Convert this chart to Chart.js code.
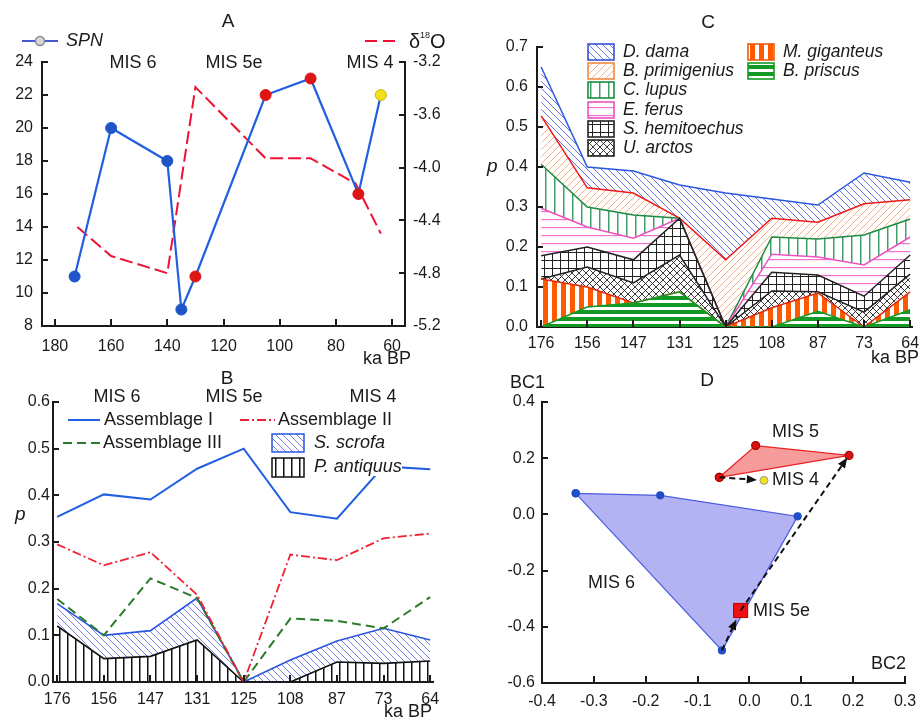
<!DOCTYPE html>
<html>
<head>
<meta charset="utf-8">
<script src="https://cdn.jsdelivr.net/npm/chart.js@4.4.1/dist/chart.umd.min.js"></script>
<style>
  html, body { margin: 0; padding: 0; background: #fff; }
  #wrap { position: relative; width: 920px; height: 722px; overflow: hidden; }
  #wrap canvas { position: absolute; }
</style>
</head>
<body>
<div id="wrap">
  <canvas id="cA" width="460" height="372" style="left:0;top:0"></canvas>
  <canvas id="cC" width="460" height="372" style="left:460px;top:0"></canvas>
  <canvas id="cB" width="460" height="360" style="left:0;top:362px"></canvas>
  <canvas id="cD" width="460" height="360" style="left:460px;top:362px"></canvas>
</div>
<script>
// ---------- panel A: SPN and d18O against age ----------
const SPN_AGE   = [173, 160, 140, 135, 130, 105, 89, 72, 64];
const SPN_VAL   = [11, 20, 18, 9, 11, 22, 23, 16, 22];
const SPN_STAGE = ['6', '6', '6', '6', '5', '5', '5', '5', '4'];
const D18O_AGE  = [172, 160, 140, 130, 105, 89, 73, 64];
const D18O_VAL  = [-4.45, -4.67, -4.8, -3.39, -3.93, -3.93, -4.12, -4.5];
const A_X_TICKS  = [180, 160, 140, 120, 100, 80, 60];
const A_Y2_TICKS = [-5.2, -4.8, -4.4, -4.0, -3.6, -3.2];

// ---------- panels B and C: equally spaced sites ----------
const AGES = ['176', '156', '147', '131', '125', '108', '87', '73', '64'];

// panel B
const ASM_I      = [0.354, 0.402, 0.391, 0.457, 0.500, 0.364, 0.350, 0.462, 0.456];
const ASM_II     = [0.295, 0.250, 0.278, 0.187, 0.000, 0.273, 0.261, 0.308, 0.318];
const ASM_III    = [0.178, 0.100, 0.222, 0.180, 0.000, 0.136, 0.131, 0.115, 0.182];
const SCROFA_TOP = [0.168, 0.100, 0.110, 0.180, 0.000, 0.047, 0.088, 0.115, 0.090];
const ANTIQUUS   = [0.120, 0.050, 0.055, 0.090, 0.000, 0.000, 0.043, 0.040, 0.045];

// panel C (cumulative upper edge of each band, bottom to top)
const PRISCUS     = [0.000, 0.050, 0.060, 0.088, 0.000, 0.000, 0.039, 0.000, 0.043];
const GIGANTEUS   = [0.120, 0.100, 0.060, 0.088, 0.000, 0.048, 0.085, 0.000, 0.088];
const ARCTOS      = [0.120, 0.150, 0.110, 0.180, 0.000, 0.090, 0.088, 0.037, 0.132];
const HEMITOECHUS = [0.178, 0.200, 0.168, 0.272, 0.000, 0.137, 0.130, 0.077, 0.180];
const FERUS       = [0.297, 0.250, 0.222, 0.272, 0.000, 0.182, 0.175, 0.155, 0.225];
const LUPUS       = [0.407, 0.300, 0.280, 0.272, 0.000, 0.225, 0.220, 0.230, 0.270];
const PRIMIGENIUS = [0.528, 0.348, 0.335, 0.272, 0.168, 0.272, 0.262, 0.308, 0.318];
const DAMA        = [0.650, 0.400, 0.390, 0.355, 0.335, 0.320, 0.305, 0.385, 0.362];

// ---------- panel D: BC1 / BC2 ordination ----------
const MIS6_X = [-0.335, -0.172, 0.093, -0.053];
const MIS6_Y = [0.075, 0.068, -0.007, -0.484];
const MIS5_X = [-0.058, 0.012, 0.192];
const MIS5_Y = [0.132, 0.245, 0.210];
const MIS4_XY  = [0.028, 0.121];
const MIS5E_XY = [-0.017, -0.342];
const D_X_TICKS = [-0.4, -0.3, -0.2, -0.1, 0, 0.1, 0.2, 0.3];
const D_Y_TICKS = [-0.6, -0.4, -0.2, 0, 0.2, 0.4];

const FONT = '"Liberation Sans", Arial, Helvetica, sans-serif';
const INK = '#1a1a1a';
const STAGE_COL = { '6': '#1f55c8', '5': '#dd1515', '4': '#f2e01c' };

// hatch fills
function hatch(kind, color, size, lw) {
  const c = document.createElement('canvas');
  c.width = c.height = size;
  const g = c.getContext('2d');
  g.strokeStyle = color; g.fillStyle = color; g.lineWidth = lw;
  const diag = (back) => {
    g.beginPath();
    for (let k = -size; k <= size; k += size) {
      if (back) { g.moveTo(k, 0); g.lineTo(k + size, size); }
      else { g.moveTo(k + size, 0); g.lineTo(k, size); }
    }
    g.stroke();
  };
  if (kind === 'back') diag(true);
  if (kind === 'fwd') diag(false);
  if (kind === 'cross') { diag(true); diag(false); }
  if (kind === 'vert' || kind === 'grid') g.fillRect(Math.round((size - lw) / 2), 0, lw, size);
  if (kind === 'horiz' || kind === 'grid') g.fillRect(0, Math.round((size - lw) / 2), size, lw);
  return g.createPattern(c, 'repeat');
}

const PAT = {
  scrofa:      hatch('back', 'rgba(70,85,215,0.75)', 7, 1),
  antiquus:    hatch('vert', '#111', 8, 1.5),
  dama:        hatch('back', 'rgba(60,80,220,0.8)', 7, 1),
  primigenius: hatch('fwd', 'rgba(245,160,105,0.8)', 7, 1),
  lupus:       hatch('vert', 'rgba(40,150,90,0.9)', 9, 1.5),
  ferus:       hatch('horiz', 'rgba(240,100,200,0.9)', 8, 1.2),
  hemitoechus: hatch('grid', '#222', 8, 1),
  arctos:      hatch('cross', '#222', 7, 0.9),
  giganteus:   hatch('vert', '#ff5a00', 9, 5),
  priscus:     hatch('horiz', '#139a25', 7, 4),
};

// inward tick marks, drawn from each scale's own tick positions
const inTicks = {
  id: 'inTicks',
  afterDraw(chart) {
    const ctx = chart.ctx;
    ctx.save();
    ctx.strokeStyle = INK;
    ctx.lineWidth = 2;
    Object.values(chart.scales).forEach(s => {
      s.ticks.forEach(t => {
        const p = Math.round(s.getPixelForValue(t.value));
        ctx.beginPath();
        if (s.position === 'left') { ctx.moveTo(s.right, p); ctx.lineTo(s.right + 6, p); }
        else if (s.position === 'right') { ctx.moveTo(s.left, p); ctx.lineTo(s.left - 6, p); }
        else { ctx.moveTo(p, s.top); ctx.lineTo(p, s.top - 7); }
        ctx.stroke();
      });
    });
    ctx.restore();
  }
};

// free text placed in page coordinates
function textLayer(ox, oy, items, extra) {
  return {
    id: 'textLayer',
    afterDraw(chart) {
      const ctx = chart.ctx;
      if (extra) extra(ctx, ox, oy, chart);
      items.forEach(it => {
        ctx.save();
        ctx.font = (it.italic ? 'italic ' : '') + (it.size || 18) + 'px ' + FONT;
        ctx.fillStyle = INK;
        ctx.textAlign = it.align || 'left';
        ctx.textBaseline = 'middle';
        ctx.fillText(it.t, it.x - ox, it.y - oy);
        ctx.restore();
      });
    }
  };
}

function tickFont() { return { family: FONT, size: 16 }; }
const NO_GRID = { display: false, drawTicks: false, tickLength: 0 };

function xAxis(min, max, height, pad, extra) {
  return Object.assign({
    type: 'linear', position: 'bottom', min, max,
    grid: NO_GRID,
    border: { display: true, color: INK, width: 2 },
    ticks: { color: INK, font: tickFont(), padding: pad, maxRotation: 0, autoSkip: false },
    afterFit(s) { s.height = height; s.paddingLeft = 0; s.paddingRight = 0; },
  }, extra || {});
}

function yAxis(pos, min, max, width, pad, extra) {
  return Object.assign({
    type: 'linear', position: pos, min, max,
    grid: NO_GRID,
    border: { display: true, color: INK, width: 2 },
    ticks: { color: INK, font: tickFont(), padding: pad },
    afterFit(s) { s.width = width; s.paddingTop = 0; s.paddingBottom = 0; },
  }, extra || {});
}

const fixedTicks = (list) => (s) => { s.ticks = list.map(v => ({ value: v })); };
const siteTicks = fixedTicks(AGES.map((_, i) => i));
const fmt1 = (v) => (Math.abs(v) < 1e-9 ? '0.0' : Number(v).toFixed(1));

const baseOpts = (pad) => ({
  responsive: false,
  animation: false,
  layout: { padding: pad },
  plugins: { legend: { display: false }, tooltip: { enabled: false } },
  elements: { line: { tension: 0 } },
});

function arrowLine(ctx, x1, y1, x2, y2, head) {
  const a = Math.atan2(y2 - y1, x2 - x1);
  ctx.save();
  ctx.strokeStyle = '#111'; ctx.fillStyle = '#111'; ctx.lineWidth = 2;
  ctx.setLineDash([6, 4]);
  ctx.beginPath(); ctx.moveTo(x1, y1);
  ctx.lineTo(x2 - Math.cos(a) * head * 0.6, y2 - Math.sin(a) * head * 0.6);
  ctx.stroke();
  ctx.setLineDash([]);
  ctx.beginPath();
  ctx.moveTo(x2, y2);
  ctx.lineTo(x2 - Math.cos(a - 0.4) * head, y2 - Math.sin(a - 0.4) * head);
  ctx.lineTo(x2 - Math.cos(a + 0.4) * head, y2 - Math.sin(a + 0.4) * head);
  ctx.closePath(); ctx.fill();
  ctx.restore();
}

// ================= A =================
new Chart(document.getElementById('cA'), {
  type: 'line',
  data: {
    datasets: [
      {
        label: 'SPN',
        data: SPN_AGE.map((x, i) => ({ x, y: SPN_VAL[i] })),
        borderColor: '#1f5fe0', borderWidth: 2.2,
        pointRadius: 5.5,
        pointBackgroundColor: SPN_STAGE.map(s => STAGE_COL[s]),
        pointBorderColor: SPN_STAGE.map(s => (s === '4' ? '#c9b800' : STAGE_COL[s])),
        pointBorderWidth: 1,
        yAxisID: 'y',
      },
      {
        label: 'δ18O',
        data: D18O_AGE.map((x, i) => ({ x, y: D18O_VAL[i] })),
        borderColor: '#ee1133', borderWidth: 2, borderDash: [13, 5],
        pointRadius: 0,
        yAxisID: 'y1',
      },
    ],
  },
  options: Object.assign(baseOpts({ left: 0, top: 62, right: 5, bottom: 0 }), {
    scales: {
      x: xAxis(55.4, 184.6, 46, 11, { reverse: true, afterBuildTicks: fixedTicks(A_X_TICKS) }),
      y: yAxis('left', 8, 24, 42, 9, { ticks: { color: INK, font: tickFont(), padding: 9, stepSize: 2 } }),
      y1: yAxis('right', -5.2, -3.2, 50, 8, {
        afterBuildTicks: fixedTicks(A_Y2_TICKS),
        ticks: { color: INK, font: tickFont(), padding: 8, callback: fmt1 },
      }),
    },
  }),
  plugins: [inTicks, textLayer(0, 0, [
    { t: 'A', x: 228, y: 22, size: 19, align: 'center' },
    { t: 'SPN', x: 66, y: 41, italic: true },
    { t: 'MIS 6', x: 133, y: 63, align: 'center' },
    { t: 'MIS 5e', x: 234, y: 63, align: 'center' },
    { t: 'MIS 4', x: 370, y: 63, align: 'center' },
    { t: 'ka BP', x: 411, y: 359, align: 'right' },
  ], (ctx) => {
    ctx.save();
    ctx.strokeStyle = '#4a55d0'; ctx.lineWidth = 2;
    ctx.beginPath(); ctx.moveTo(22, 41); ctx.lineTo(58, 41); ctx.stroke();
    ctx.fillStyle = '#d8d8d8'; ctx.strokeStyle = '#8a8a9a'; ctx.lineWidth = 1.5;
    ctx.beginPath(); ctx.arc(40, 41, 4.5, 0, Math.PI * 2); ctx.fill(); ctx.stroke();
    ctx.strokeStyle = '#ee1133'; ctx.lineWidth = 2; ctx.setLineDash([12, 6]);
    ctx.beginPath(); ctx.moveTo(365, 41); ctx.lineTo(398, 41); ctx.stroke();
    ctx.setLineDash([]);
    ctx.fillStyle = INK; ctx.textBaseline = 'middle';
    ctx.font = '20px ' + FONT; ctx.fillText('δ', 409, 42);
    ctx.font = '9px ' + FONT; ctx.fillText('18', 420, 36);
    ctx.font = '20px ' + FONT; ctx.fillText('O', 430, 42);
    ctx.restore();
  })],
});

// ================= B =================
const siteData = (arr) => arr.map((y, x) => ({ x, y }));
new Chart(document.getElementById('cB'), {
  type: 'line',
  data: {
    datasets: [
      { label: 'Assemblage I', data: siteData(ASM_I), borderColor: '#1f5fe0', borderWidth: 2, pointRadius: 0 },
      { label: 'Assemblage II', data: siteData(ASM_II), borderColor: '#ee2233', borderWidth: 1.8, borderDash: [9, 3, 2, 3], pointRadius: 0 },
      { label: 'Assemblage III', data: siteData(ASM_III), borderColor: '#2a7a2a', borderWidth: 2, borderDash: [9, 5], pointRadius: 0 },
      { label: 'P. antiquus', data: siteData(ANTIQUUS), borderColor: '#111', borderWidth: 1.6, pointRadius: 0, fill: 'origin', backgroundColor: PAT.antiquus },
      { label: 'S. scrofa', data: siteData(SCROFA_TOP), borderColor: '#2a55e0', borderWidth: 1.6, pointRadius: 0, fill: '-1', backgroundColor: PAT.scrofa },
    ],
  },
  options: Object.assign(baseOpts({ left: 0, top: 40, right: 27, bottom: 0 }), {
    scales: {
      x: xAxis(-0.09, 8.06, 40, 8, { afterBuildTicks: siteTicks, ticks: { color: INK, font: tickFont(), padding: 8, maxRotation: 0, callback: (v) => AGES[v] } }),
      y: yAxis('left', 0, 0.6, 53, 3, { ticks: { color: INK, font: tickFont(), padding: 3, stepSize: 0.1, callback: fmt1 } }),
    },
  }),
  plugins: [inTicks, textLayer(0, 362, [
    { t: 'B', x: 227, y: 379, align: 'center', size: 19 },
    { t: 'MIS 6', x: 117, y: 397, align: 'center' },
    { t: 'MIS 5e', x: 234, y: 397, align: 'center' },
    { t: 'MIS 4', x: 373, y: 397, align: 'center' },
    { t: 'Assemblage I', x: 104, y: 420 },
    { t: 'Assemblage II', x: 278, y: 420 },
    { t: 'Assemblage III', x: 103, y: 443 },
    { t: 'S. scrofa', x: 314, y: 443, italic: true },
    { t: 'P. antiquus', x: 314, y: 467, italic: true },
    { t: 'p', x: 15, y: 515, italic: true, size: 19 },
    { t: 'ka BP', x: 432, y: 712, align: 'right' },
  ], (ctx, ox, oy) => {
    ctx.save();
    ctx.fillStyle = '#fff';
    ctx.fillRect(310 - ox, 458 - oy, 92, 18);
    ctx.lineWidth = 2;
    ctx.strokeStyle = '#1f5fe0';
    ctx.beginPath(); ctx.moveTo(68 - ox, 420 - oy); ctx.lineTo(100 - ox, 420 - oy); ctx.stroke();
    ctx.strokeStyle = '#ee2233'; ctx.setLineDash([9, 3, 2, 3]);
    ctx.beginPath(); ctx.moveTo(240 - ox, 420 - oy); ctx.lineTo(275 - ox, 420 - oy); ctx.stroke();
    ctx.strokeStyle = '#2a7a2a'; ctx.setLineDash([9, 5]);
    ctx.beginPath(); ctx.moveTo(63 - ox, 443 - oy); ctx.lineTo(100 - ox, 443 - oy); ctx.stroke();
    ctx.setLineDash([]);
    ctx.lineWidth = 1.5;
    ctx.fillStyle = PAT.scrofa; ctx.strokeStyle = '#2a55e0';
    ctx.fillRect(272 - ox, 434 - oy, 32, 18); ctx.strokeRect(272 - ox, 434 - oy, 32, 18);
    ctx.fillStyle = PAT.antiquus; ctx.strokeStyle = '#111';
    ctx.fillRect(272 - ox, 458 - oy, 32, 19); ctx.strokeRect(272 - ox, 458 - oy, 32, 19);
    ctx.restore();
  })],
});

// ================= C =================
const C_SERIES = [
  ['B. priscus', PRISCUS, '#139a25', PAT.priscus],
  ['M. giganteus', GIGANTEUS, '#e02a10', PAT.giganteus],
  ['U. arctos', ARCTOS, '#222', PAT.arctos],
  ['S. hemitoechus', HEMITOECHUS, '#222', PAT.hemitoechus],
  ['E. ferus', FERUS, '#f050c0', PAT.ferus],
  ['C. lupus', LUPUS, '#1c8c40', PAT.lupus],
  ['B. primigenius', PRIMIGENIUS, '#f01818', PAT.primigenius],
  ['D. dama', DAMA, '#2a58e0', PAT.dama],
];
const C_LEGEND_BOX = {
  'D. dama': '#3a50d8', 'B. primigenius': '#f08a40', 'C. lupus': '#1c8c40', 'E. ferus': '#f050c0',
  'S. hemitoechus': '#222', 'U. arctos': '#222', 'M. giganteus': '#e85a10', 'B. priscus': '#139a25',
};
new Chart(document.getElementById('cC'), {
  type: 'line',
  data: {
    datasets: C_SERIES.map(([label, arr, color, pat], i) => ({
      label, data: siteData(arr), borderColor: color, borderWidth: 1.5, pointRadius: 0,
      fill: i === 0 ? 'origin' : '-1', backgroundColor: pat,
    })),
  },
  options: Object.assign(baseOpts({ left: 0, top: 47, right: 8, bottom: 0 }), {
    scales: {
      x: xAxis(-0.09, 8.04, 45, 7, { afterBuildTicks: siteTicks, ticks: { color: INK, font: tickFont(), padding: 7, maxRotation: 0, callback: (v) => AGES[v] } }),
      y: yAxis('left', 0, 0.7, 77, 9, { ticks: { color: INK, font: tickFont(), padding: 9, stepSize: 0.1, callback: fmt1 } }),
    },
  }),
  plugins: [inTicks, textLayer(460, 0, [
    { t: 'C', x: 708, y: 23, align: 'center', size: 19 },
    { t: 'p', x: 487, y: 167, italic: true, size: 19 },
    { t: 'ka BP', x: 919, y: 358, align: 'right' },
  ], (ctx, ox, oy) => {
    const rows = [
      ['D. dama', 588, 52], ['B. primigenius', 588, 71], ['C. lupus', 588, 90],
      ['E. ferus', 588, 110], ['S. hemitoechus', 588, 129], ['U. arctos', 588, 148],
      ['M. giganteus', 748, 52], ['B. priscus', 748, 71],
    ];
    ctx.save();
    rows.forEach(([name, x, y]) => {
      const ser = C_SERIES.find(s => s[0] === name);
      ctx.fillStyle = '#fff';
      ctx.fillRect(x - ox, y - 8 - oy, 26, 16);
      ctx.fillStyle = ser[3];
      ctx.fillRect(x - ox, y - 8 - oy, 26, 16);
      ctx.strokeStyle = C_LEGEND_BOX[name]; ctx.lineWidth = 1.6;
      ctx.strokeRect(x - ox, y - 8 - oy, 26, 16);
      ctx.fillStyle = INK;
      ctx.font = 'italic 17.5px ' + FONT; ctx.textBaseline = 'middle';
      ctx.fillText(name, x + 35 - ox, y - oy);
    });
    ctx.restore();
  })],
});

// ================= D =================
const closed = (xs, ys) => xs.concat(xs[0]).map((x, i) => ({ x, y: ys.concat(ys[0])[i] }));
const ARROWS = [
  { from: [MIS5_X[0], MIS5_Y[0]], to: MIS4_XY, stop: 7 },
  { from: [MIS6_X[3], MIS6_Y[3]], to: MIS5E_XY, stop: 10 },
  { from: MIS5E_XY, to: [MIS5_X[2], MIS5_Y[2]], stop: 3 },
];
new Chart(document.getElementById('cD'), {
  type: 'scatter',
  data: {
    datasets: [
      {
        label: 'MIS 5e', data: [{ x: MIS5E_XY[0], y: MIS5E_XY[1] }],
        pointStyle: 'rect', pointRadius: 10, pointBackgroundColor: '#ee1111', pointBorderColor: '#b00', pointBorderWidth: 1,
      },
      {
        label: 'MIS 4', data: [{ x: MIS4_XY[0], y: MIS4_XY[1] }],
        pointRadius: 4, pointBackgroundColor: '#f2e01c', pointBorderColor: '#999', pointBorderWidth: 1,
      },
      {
        label: 'MIS 5', data: closed(MIS5_X, MIS5_Y), showLine: true, fill: 'shape',
        backgroundColor: 'rgba(246,130,130,0.8)', borderColor: '#e82020', borderWidth: 1.2,
        pointRadius: 4, pointBackgroundColor: '#d81010', pointBorderColor: '#a00',
      },
      {
        label: 'MIS 6', data: closed(MIS6_X, MIS6_Y), showLine: true, fill: 'shape',
        backgroundColor: 'rgba(150,150,238,0.72)', borderColor: '#4a5ee0', borderWidth: 1.2,
        pointRadius: 3.5, pointBackgroundColor: '#1f4fc8', pointBorderColor: '#1f4fc8',
      },
    ],
  },
  options: Object.assign(baseOpts({ left: 0, top: 40, right: 15, bottom: 0 }), {
    scales: {
      x: xAxis(-0.4, 0.3, 39, 9, { afterBuildTicks: fixedTicks(D_X_TICKS), ticks: { color: INK, font: tickFont(), padding: 9, maxRotation: 0, callback: fmt1 } }),
      y: yAxis('left', -0.6, 0.4, 82, 7, { afterBuildTicks: fixedTicks(D_Y_TICKS), ticks: { color: INK, font: tickFont(), padding: 7, callback: fmt1 } }),
    },
  }),
  plugins: [inTicks, {
    id: 'arrows',
    afterDatasetsDraw(chart) {
      const { x, y } = chart.scales;
      ARROWS.forEach(a => {
        const x1 = x.getPixelForValue(a.from[0]), y1 = y.getPixelForValue(a.from[1]);
        let x2 = x.getPixelForValue(a.to[0]), y2 = y.getPixelForValue(a.to[1]);
        const ang = Math.atan2(y2 - y1, x2 - x1);
        x2 -= Math.cos(ang) * a.stop; y2 -= Math.sin(ang) * a.stop;
        arrowLine(chart.ctx, x1, y1, x2, y2, 11);
      });
    },
  }, textLayer(460, 362, [
    { t: 'D', x: 707, y: 381, align: 'center', size: 19 },
    { t: 'BC1', x: 510, y: 383 },
    { t: 'MIS 5', x: 772, y: 432 },
    { t: 'MIS 4', x: 772, y: 480 },
    { t: 'MIS 6', x: 588, y: 583 },
    { t: 'MIS 5e', x: 753, y: 611 },
    { t: 'BC2', x: 871, y: 664 },
  ])],
});
</script>
</body>
</html>
